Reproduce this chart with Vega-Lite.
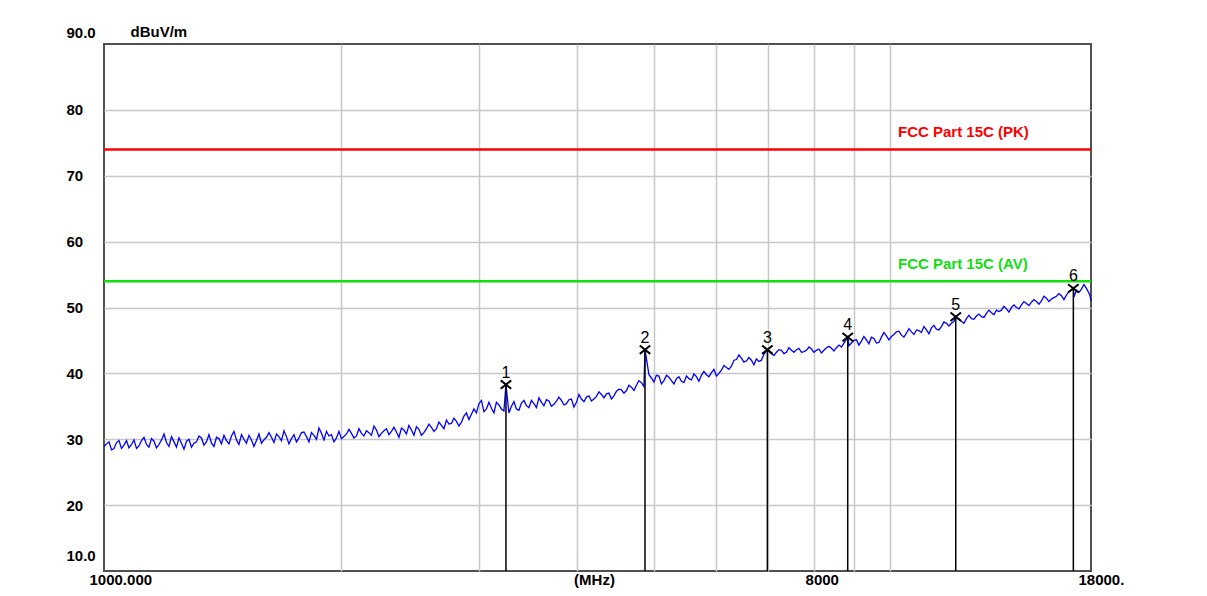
{
  "$schema": "https://vega.github.io/schema/vega-lite/v6.json",
  "width": 987,
  "height": 527,
  "autosize": "none",
  "padding": {"left": 104, "top": 44, "right": 116, "bottom": 25},
  "background": "white",
  "config": {
    "view": {"stroke": "#505050", "strokeWidth": 2},
    "font": "Liberation Sans"
  },
  "datasets": {
    "trace": [
      {"f":1000,"v":28.9},{"f":1014.8,"v":29.6},{"f":1029.7,"v":28.6},{"f":1044.9,"v":29.8},{"f":1060.3,"v":29.1},
      {"f":1075.9,"v":28.7},{"f":1091.8,"v":29.9},{"f":1107.9,"v":29.0},{"f":1124.2,"v":30.3},{"f":1140.8,"v":28.8},
      {"f":1157.6,"v":29.7},{"f":1174.7,"v":29.2},{"f":1192.0,"v":30.8},{"f":1209.6,"v":28.9},{"f":1227.4,"v":29.6},
      {"f":1245.5,"v":30.2},{"f":1263.9,"v":28.5},{"f":1282.5,"v":30.0},{"f":1301.4,"v":29.4},{"f":1320.6,"v":30.5},
      {"f":1340.0,"v":29.1},{"f":1359.8,"v":30.7},{"f":1379.9,"v":28.9},{"f":1400.2,"v":30.1},{"f":1420.9,"v":30.6},
      {"f":1441.8,"v":29.3},{"f":1463.1,"v":31.2},{"f":1484.7,"v":29.2},{"f":1506.6,"v":30.0},{"f":1528.8,"v":30.6},
      {"f":1551.3,"v":28.9},{"f":1574.2,"v":30.8},{"f":1597.4,"v":29.9},{"f":1621.0,"v":31.0},{"f":1644.9,"v":29.5},
      {"f":1669.2,"v":30.4},{"f":1693.8,"v":31.3},{"f":1718.8,"v":29.3},{"f":1744.1,"v":30.7},{"f":1769.8,"v":30.2},
      {"f":1795.9,"v":31.1},{"f":1822.4,"v":29.6},{"f":1849.3,"v":30.6},{"f":1876.6,"v":31.7},{"f":1904.3,"v":29.9},
      {"f":1932.4,"v":30.5},{"f":1960.9,"v":29.6},{"f":1989.8,"v":31.2},{"f":2019.1,"v":30.4},{"f":2048.9,"v":31.5},
      {"f":2079.1,"v":30.2},{"f":2109.8,"v":31.6},{"f":2140.9,"v":30.5},{"f":2172.5,"v":31.0},{"f":2204.5,"v":32.0},
      {"f":2237.0,"v":30.4},{"f":2270.0,"v":31.3},{"f":2303.5,"v":30.7},{"f":2337.5,"v":31.8},{"f":2372.0,"v":30.3},
      {"f":2406.9,"v":31.4},{"f":2442.4,"v":32.1},{"f":2478.4,"v":30.6},{"f":2515.0,"v":31.5},{"f":2552.1,"v":31.0},
      {"f":2589.7,"v":32.3},{"f":2627.9,"v":31.2},{"f":2666.7,"v":32.6},{"f":2706.0,"v":31.6},{"f":2745.9,"v":32.3},
      {"f":2786.4,"v":33.2},{"f":2827.5,"v":32.0},{"f":2869.2,"v":33.5},{"f":2911.5,"v":33.0},{"f":2954.4,"v":34.6},
      {"f":2998.0,"v":35.4},{"f":3042.2,"v":34.2},{"f":3087.1,"v":35.6},{"f":3132.6,"v":34.0},{"f":3178.8,"v":35.2},
      {"f":3225.7,"v":34.3},{"f":3245,"v":38.3},{"f":3273.3,"v":34.0},{"f":3321.6,"v":35.7},{"f":3370.6,"v":34.4},
      {"f":3420.3,"v":35.9},{"f":3470.7,"v":34.8},{"f":3521.9,"v":35.4},{"f":3573.9,"v":36.3},{"f":3626.6,"v":35.1},
      {"f":3680.1,"v":35.8},{"f":3734.3,"v":35.3},{"f":3789.4,"v":36.4},{"f":3845.3,"v":35.2},{"f":3902.0,"v":36.0},
      {"f":3959.6,"v":34.9},{"f":4018.0,"v":36.8},{"f":4077.3,"v":35.7},{"f":4137.4,"v":36.6},{"f":4198.4,"v":36.1},
      {"f":4260.4,"v":37.2},{"f":4323.2,"v":36.3},{"f":4387.0,"v":37.0},{"f":4451.7,"v":36.6},{"f":4517.4,"v":37.6},
      {"f":4584.0,"v":37.0},{"f":4651.6,"v":38.2},{"f":4720.2,"v":37.4},{"f":4789.8,"v":38.9},{"f":4860.5,"v":38.0},
      {"f":4876,"v":43.6},{"f":4932.2,"v":39.8},{"f":5004.9,"v":38.7},{"f":5078.7,"v":39.6},{"f":5153.6,"v":38.9},
      {"f":5229.7,"v":39.4},{"f":5306.8,"v":38.4},{"f":5385.1,"v":39.5},{"f":5464.5,"v":38.6},{"f":5545.1,"v":39.2},
      {"f":5626.9,"v":39.9},{"f":5709.9,"v":38.8},{"f":5794.1,"v":40.3},{"f":5879.6,"v":39.5},{"f":5966.3,"v":40.6},
      {"f":6054.3,"v":40.0},{"f":6143.6,"v":41.2},{"f":6234.2,"v":40.6},{"f":6326.2,"v":42.0},{"f":6419.5,"v":42.8},
      {"f":6514.2,"v":41.7},{"f":6610.3,"v":42.4},{"f":6707.8,"v":41.3},{"f":6806.7,"v":41.8},{"f":6907.1,"v":42.9},
      {"f":6977,"v":43.6},{"f":7009.0,"v":43.4},{"f":7112.4,"v":42.7},{"f":7217.3,"v":43.6},{"f":7323.7,"v":43.0},
      {"f":7431.8,"v":43.9},{"f":7541.4,"v":43.2},{"f":7652.6,"v":43.8},{"f":7765.5,"v":43.3},{"f":7880.0,"v":44.0},
      {"f":7996.2,"v":43.2},{"f":8114.2,"v":43.7},{"f":8233.9,"v":43.5},{"f":8355.3,"v":44.1},{"f":8478.6,"v":43.4},
      {"f":8603.7,"v":44.3},{"f":8730.6,"v":44.6},{"f":8828,"v":45.5},{"f":8859.4,"v":44.2},{"f":8990.0,"v":45.0},
      {"f":9122.6,"v":44.3},{"f":9257.2,"v":45.6},{"f":9393.7,"v":44.5},{"f":9532.3,"v":45.3},{"f":9672.9,"v":44.7},
      {"f":9815.6,"v":46.2},{"f":9960.4,"v":45.1},{"f":10107,"v":45.9},{"f":10256,"v":46.4},{"f":10407,"v":45.5},
      {"f":10561,"v":46.8},{"f":10717,"v":45.9},{"f":10875,"v":46.5},{"f":11035,"v":47.1},{"f":11198,"v":46.0},
      {"f":11363,"v":47.3},{"f":11531,"v":46.6},{"f":11701,"v":47.8},{"f":11874,"v":47.2},{"f":12049,"v":47.9},
      {"f":12113,"v":48.6},{"f":12226,"v":48.3},{"f":12407,"v":47.6},{"f":12590,"v":48.8},{"f":12776,"v":48.2},
      {"f":12964,"v":49.0},{"f":13155,"v":48.5},{"f":13349,"v":49.6},{"f":13546,"v":48.9},{"f":13746,"v":49.4},
      {"f":13949,"v":50.2},{"f":14155,"v":49.3},{"f":14364,"v":50.4},{"f":14575,"v":49.8},{"f":14790,"v":50.9},
      {"f":15008,"v":50.3},{"f":15230,"v":51.2},{"f":15454,"v":50.5},{"f":15682,"v":51.7},{"f":15913,"v":50.9},
      {"f":16148,"v":51.5},{"f":16386,"v":52.1},{"f":16628,"v":51.2},{"f":16873,"v":52.4},{"f":17093,"v":52.9},
      {"f":17122,"v":51.6},{"f":17375,"v":52.3},{"f":17631,"v":53.5},{"f":17891,"v":52.2},{"f":18000,"v":51.0},
      {"f":1007.4,"v":29.3},{"f":1022.3,"v":28.4},{"f":1037.3,"v":29.5},{"f":1052.6,"v":28.6},{"f":1068.1,"v":29.8},
      {"f":1083.9,"v":29.2},{"f":1099.9,"v":28.6},{"f":1116.1,"v":29.8},{"f":1132.5,"v":29.2},{"f":1149.2,"v":30.1},
      {"f":1166.2,"v":28.7},{"f":1183.4,"v":29.9},{"f":1200.8,"v":29.5},{"f":1218.5,"v":30.4},{"f":1236.5,"v":28.8},
      {"f":1254.7,"v":29.4},{"f":1273.2,"v":29.7},{"f":1292.0,"v":28.8},{"f":1311.0,"v":29.6},{"f":1330.3,"v":30.2},
      {"f":1349.9,"v":29.6},{"f":1369.9,"v":29.4},{"f":1390.1,"v":30.3},{"f":1410.6,"v":29.3},{"f":1431.4,"v":29.8},
      {"f":1452.5,"v":30.5},{"f":1473.9,"v":29.9},{"f":1495.7,"v":30.7},{"f":1517.7,"v":29.4},{"f":1540.1,"v":29.9},
      {"f":1562.8,"v":29.8},{"f":1585.8,"v":29.4},{"f":1609.2,"v":30.3},{"f":1633.0,"v":30.3},{"f":1657.1,"v":30.8},
      {"f":1681.5,"v":29.8},{"f":1706.3,"v":30.4},{"f":1731.5,"v":30.1},{"f":1757.0,"v":29.6},{"f":1782.9,"v":31.0},
      {"f":1809.2,"v":30.4},{"f":1835.9,"v":31.0},{"f":1863.0,"v":30.0},{"f":1890.5,"v":30.9},{"f":1918.4,"v":31.2},
      {"f":1946.7,"v":30.7},{"f":1975.4,"v":30.2},{"f":2004.5,"v":30.1},{"f":2034.0,"v":30.8},{"f":2064.0,"v":30.9},
      {"f":2094.5,"v":30.5},{"f":2125.4,"v":30.9},{"f":2156.7,"v":31.3},{"f":2188.5,"v":30.6},{"f":2220.8,"v":31.4},
      {"f":2253.5,"v":30.9},{"f":2286.8,"v":31.6},{"f":2320.5,"v":31.2},{"f":2354.8,"v":31.1},{"f":2389.5,"v":31.7},
      {"f":2424.7,"v":30.8},{"f":2460.4,"v":31.4},{"f":2496.7,"v":31.9},{"f":2533.6,"v":30.6},{"f":2570.9,"v":31.6},
      {"f":2608.8,"v":31.8},{"f":2647.3,"v":31.6},{"f":2686.4,"v":32.1},{"f":2726.0,"v":32.9},{"f":2766.2,"v":32.4},
      {"f":2807.0,"v":32.7},{"f":2848.4,"v":32.6},{"f":2890.4,"v":34.0},{"f":2933.0,"v":33.8},{"f":2976.2,"v":34.0},
      {"f":3020.1,"v":35.9},{"f":3064.7,"v":34.6},{"f":3109.9,"v":34.7},{"f":3155.7,"v":35.6},{"f":3202.3,"v":34.6},
      {"f":3297.5,"v":35.0},{"f":3346.1,"v":34.6},{"f":3395.5,"v":35.5},{"f":3445.5,"v":35.1},{"f":3496.3,"v":35.9},
      {"f":3547.9,"v":34.8},{"f":3600.3,"v":35.6},{"f":3653.4,"v":36.0},{"f":3707.2,"v":35.0},{"f":3761.9,"v":35.8},
      {"f":3817.4,"v":35.9},{"f":3873.7,"v":35.4},{"f":3930.8,"v":36.1},{"f":3988.8,"v":35.6},{"f":4047.7,"v":36.1},
      {"f":4107.4,"v":36.4},{"f":4167.9,"v":35.8},{"f":4229.4,"v":36.5},{"f":4291.8,"v":36.8},{"f":4355.1,"v":36.9},
      {"f":4419.4,"v":36.1},{"f":4484.6,"v":37.3},{"f":4550.7,"v":37.5},{"f":4617.8,"v":37.4},{"f":4685.9,"v":37.9},
      {"f":4755.0,"v":38.2},{"f":4825.2,"v":38.6},{"f":4968.6,"v":39.3},{"f":5041.8,"v":39.7},{"f":5116.2,"v":38.4},
      {"f":5191.7,"v":39.7},{"f":5268.3,"v":38.9},{"f":5346.0,"v":39.2},{"f":5424.8,"v":38.8},{"f":5504.8,"v":39.6},
      {"f":5586.0,"v":39.0},{"f":5668.4,"v":39.5},{"f":5752.0,"v":39.7},{"f":5836.9,"v":39.8},{"f":5923.0,"v":40.1},
      {"f":6010.3,"v":39.6},{"f":6099.0,"v":40.5},{"f":6188.9,"v":40.9},{"f":6280.2,"v":41.1},{"f":6372.9,"v":42.1},
      {"f":6466.9,"v":42.3},{"f":6562.3,"v":41.9},{"f":6659.1,"v":42.0},{"f":6757.3,"v":42.2},{"f":6856.9,"v":42.0},
      {"f":7060.7,"v":43.0},{"f":7164.9,"v":43.2},{"f":7270.5,"v":43.5},{"f":7377.8,"v":43.2},{"f":7486.6,"v":43.5},
      {"f":7597.0,"v":43.6},{"f":7709.1,"v":43.2},{"f":7822.8,"v":43.5},{"f":7938.1,"v":43.7},{"f":8055.2,"v":43.5},
      {"f":8174.1,"v":43.1},{"f":8294.6,"v":43.9},{"f":8417.0,"v":43.8},{"f":8541.2,"v":43.9},{"f":8667.2,"v":44.0},
      {"f":8924.7,"v":44.6},{"f":9056.3,"v":45.1},{"f":9189.9,"v":44.9},{"f":9325.5,"v":45.1},{"f":9463.0,"v":45.5},
      {"f":9602.6,"v":44.6},{"f":9744.3,"v":45.5},{"f":9888.0,"v":45.7},{"f":10034,"v":45.6},{"f":10182,"v":46.3},
      {"f":10332,"v":45.8},{"f":10484,"v":46.1},{"f":10639,"v":46.3},{"f":10796,"v":46.6},{"f":10955,"v":46.2},
      {"f":11117,"v":46.6},{"f":11281,"v":46.9},{"f":11447,"v":46.7},{"f":11616,"v":47.1},{"f":11788,"v":47.6},
      {"f":11962,"v":47.6},{"f":12317,"v":47.9},{"f":12499,"v":48.3},{"f":12683,"v":48.3},{"f":12870,"v":48.7},
      {"f":13060,"v":48.6},{"f":13252,"v":49.1},{"f":13448,"v":49.2},{"f":13646,"v":49.6},{"f":13848,"v":49.6},
      {"f":14052,"v":49.8},{"f":14260,"v":50.0},{"f":14470,"v":50.0},{"f":14683,"v":50.4},{"f":14899,"v":50.6},
      {"f":15119,"v":50.8},{"f":15342,"v":50.9},{"f":15568,"v":51.0},{"f":15798,"v":51.4},{"f":16031,"v":51.3},
      {"f":16267,"v":51.7},{"f":16507,"v":51.8},{"f":16751,"v":51.9},{"f":17249,"v":52.6},{"f":17503,"v":52.8},
      {"f":17761,"v":52.9},{"f":17946,"v":51.8}
    ],
    "markers": [
      {"n":"1","f":3245,"v":38.3},
      {"n":"2","f":4876,"v":43.6},
      {"n":"3","f":6977,"v":43.6},
      {"n":"4","f":8828,"v":45.5},
      {"n":"5","f":12113,"v":48.6},
      {"n":"6","f":17093,"v":52.9}
    ],
    "limits": [
      {"name":"FCC Part 15C (PK)","limit":74},
      {"name":"FCC Part 15C (AV)","limit":54}
    ]
  },
  "layer": [
    {
      "data": {"name": "trace"},
      "mark": {"type": "line", "color": "#0000ff", "strokeWidth": 1.3, "interpolate": "linear"},
      "encoding": {
        "x": {
          "field": "f", "type": "quantitative",
          "scale": {"type": "log", "domain": [1000, 18000], "nice": false},
          "axis": {
            "orient": "bottom",
            "values": [1000, 2000, 3000, 4000, 5000, 6000, 7000, 8000, 9000, 10000, 18000],
            "grid": true,
            "gridColor": "#c8c8c8",
            "gridWidth": 1.5,
            "gridOpacity": {"expr": "datum.value == 1000 || datum.value == 18000 ? 0 : 1"},
            "ticks": false,
            "tickSize": 0,
            "domain": false,
            "labelExpr": "datum.value == 1000 ? '1000.000' : datum.value == 8000 ? '8000' : datum.value == 18000 ? '18000.' : ''",
            "labelAlign": "left",
            "labelOffset": {"expr": "datum.value == 1000 ? -15 : datum.value == 8000 ? -9 : -13"},
            "labelBaseline": "top",
            "labelPadding": 1,
            "labelFont": "Liberation Sans",
            "labelFontSize": 15,
            "labelFontWeight": "bold",
            "labelColor": "#000000",
            "labelOverlap": false,
            "labelFlush": false,
            "title": "(MHz)",
            "titleFont": "Liberation Sans",
            "titleFontSize": 15,
            "titleFontWeight": "bold",
            "titleColor": "#000000",
            "titleX": 490,
            "titleY": 1,
            "titleAlign": "center",
            "titleBaseline": "top"
          }
        },
        "y": {
          "field": "v", "type": "quantitative",
          "scale": {"domain": [10, 90], "nice": false, "zero": false},
          "axis": {
            "values": [10, 20, 30, 40, 50, 60, 70, 80, 90],
            "grid": true,
            "gridColor": "#c8c8c8",
            "gridWidth": 1.5,
            "gridOpacity": {"expr": "datum.value == 10 || datum.value == 90 ? 0 : 1"},
            "ticks": false,
            "tickSize": 0,
            "domain": false,
            "labelExpr": "datum.value == 90 ? '90.0' : datum.value == 10 ? '10.0' : datum.label",
            "labelAlign": "left",
            "labelBaseline": "middle",
            "labelPadding": 38,
            "labelOffset": {"expr": "datum.value == 90 ? -12 : datum.value == 10 ? -16 : 0"},
            "labelFont": "Liberation Sans",
            "labelFontSize": 15,
            "labelFontWeight": "bold",
            "labelColor": "#000000",
            "labelOverlap": false,
            "labelFlush": false,
            "title": "dBuV/m",
            "titleAngle": 0,
            "titleX": 26,
            "titleY": -8,
            "titleAlign": "left",
            "titleBaseline": "alphabetic",
            "titleFont": "Liberation Sans",
            "titleFontSize": 15,
            "titleFontWeight": "bold",
            "titleColor": "#000000"
          }
        }
      }
    },
    {
      "data": {"name": "limits"},
      "mark": {"type": "rule", "strokeWidth": 2.5},
      "encoding": {
        "y": {"field": "limit", "type": "quantitative"},
        "color": {
          "field": "name", "type": "nominal", "legend": null,
          "scale": {"domain": ["FCC Part 15C (PK)", "FCC Part 15C (AV)"], "range": ["#ff0000", "#11dd11"]}
        }
      }
    },
    {
      "data": {"name": "limits"},
      "mark": {"type": "text", "align": "left", "baseline": "alphabetic", "dy": -12, "font": "Liberation Sans", "fontSize": 15, "fontWeight": "bold"},
      "encoding": {
        "x": {"datum": 10228, "type": "quantitative"},
        "y": {"field": "limit", "type": "quantitative"},
        "text": {"field": "name"},
        "color": {
          "field": "name", "type": "nominal", "legend": null,
          "scale": {"domain": ["FCC Part 15C (PK)", "FCC Part 15C (AV)"], "range": ["#e0102a", "#33e033"]}
        }
      }
    },
    {
      "data": {"name": "markers"},
      "mark": {"type": "rule", "color": "#000000", "strokeWidth": 1.5},
      "encoding": {
        "x": {"field": "f", "type": "quantitative"},
        "y": {"field": "v", "type": "quantitative"},
        "y2": {"datum": 10}
      }
    },
    {
      "data": {"name": "markers"},
      "mark": {"type": "point", "shape": "M-1,-0.8L1,0.8M1,-0.8L-1,0.8", "filled": false, "stroke": "#000000", "strokeWidth": 2, "size": 110, "opacity": 1},
      "encoding": {
        "x": {"field": "f", "type": "quantitative"},
        "y": {"field": "v", "type": "quantitative"}
      }
    },
    {
      "data": {"name": "markers"},
      "mark": {"type": "text", "align": "center", "baseline": "alphabetic", "dy": -7, "font": "Liberation Sans", "fontSize": 16, "color": "#000000"},
      "encoding": {
        "x": {"field": "f", "type": "quantitative"},
        "y": {"field": "v", "type": "quantitative"},
        "text": {"field": "n"}
      }
    }
  ]
}
